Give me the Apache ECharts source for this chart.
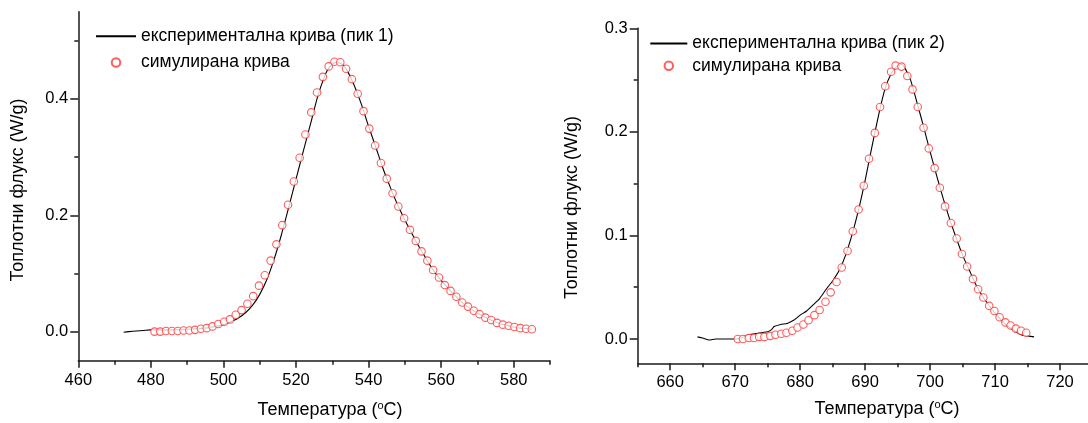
<!DOCTYPE html>
<html><head><meta charset="utf-8">
<script src="https://cdn.jsdelivr.net/npm/echarts@6/dist/echarts.min.js"></script>
<style>html,body{margin:0;padding:0;background:#fff}#c{width:1088px;height:423px}</style>
</head><body><div id="c"></div><script>
// ---- Left plot (peak 1) ----
const leftExpX = [472.5,474,476,478,480,485,490,495,498,500,502,504,506,508,510,512,514,516,518,520,522,524,526,528,529,530,531,532,533,534,536,538,540,542,544,546,548,550,552,554,556,558,560,562,564,566,568,570,572,574,576,578,580,582,584,585];
const leftExpY = [-0.001,0.000,0.001,0.002,0.003,0.003,0.004,0.006,0.009,0.012,0.017,0.023,0.032,0.045,0.064,0.090,0.125,0.167,0.214,0.262,0.310,0.357,0.405,0.441,0.453,0.460,0.463,0.462,0.458,0.450,0.424,0.391,0.353,0.317,0.280,0.248,0.218,0.192,0.168,0.145,0.124,0.104,0.088,0.074,0.061,0.049,0.040,0.032,0.025,0.019,0.014,0.011,0.008,0.006,0.005,0.004];
const leftSimX = [481.0,482.6,484.2,485.8,487.4,489.0,490.6,492.2,493.8,495.4,497.0,498.6,500.2,501.8,503.4,505.0,506.6,508.2,509.8,511.4,513.0,514.6,516.2,517.8,519.4,521.0,522.6,524.2,525.8,527.4,529.0,530.6,532.2,533.8,535.4,537.0,538.6,540.2,541.8,543.4,545.0,546.6,548.2,549.8,551.4,553.0,554.6,556.2,557.8,559.4,561.0,562.6,564.2,565.8,567.4,569.0,570.6,572.2,573.8,575.4,577.0,578.6,580.2,581.8,583.4,585.0];
const leftSimY = [0.000,0.000,0.001,0.001,0.001,0.002,0.002,0.003,0.005,0.006,0.009,0.013,0.017,0.021,0.029,0.037,0.048,0.061,0.079,0.097,0.122,0.150,0.183,0.218,0.258,0.299,0.339,0.377,0.411,0.438,0.456,0.464,0.463,0.452,0.434,0.409,0.379,0.349,0.320,0.290,0.263,0.238,0.215,0.195,0.175,0.156,0.138,0.122,0.106,0.093,0.080,0.070,0.060,0.050,0.043,0.036,0.030,0.024,0.020,0.015,0.012,0.010,0.008,0.006,0.005,0.004];
const leftXTicks = [460,480,500,520,540,560,580];
const leftXMinor = [470,490,510,530,550,570,590];
const leftYTicks = [0,0.2,0.4];
const leftYMinor = [0.1,0.3,0.5];

// ---- Right plot (peak 2) ----
const rightExpX = [664.2,665,666,667,668,669,670,671,672,673,674,675,675.6,676,677,678,679,680,681,682,683,684,685,686,687,688,689,690,691,692,693,694,695,695.6,696,697,698,699,700,701,702,703,704,705,706,707,708,709,710,711,712,713,714,715,716];
const rightExpY = [0.002,0.001,-0.001,0.000,0.000,0.000,0.000,0.001,0.004,0.005,0.006,0.007,0.009,0.012,0.014,0.015,0.018,0.023,0.027,0.033,0.039,0.048,0.056,0.066,0.081,0.101,0.125,0.153,0.184,0.214,0.240,0.256,0.264,0.265,0.263,0.250,0.228,0.205,0.181,0.158,0.136,0.116,0.098,0.081,0.067,0.053,0.042,0.033,0.025,0.018,0.012,0.008,0.004,0.003,0.002];
const rightSimX = [670.4,671.2,672.1,672.9,673.7,674.5,675.4,676.2,677.1,677.9,678.8,679.6,680.5,681.3,682.2,683.0,683.9,684.7,685.6,686.4,687.3,688.1,689.0,689.8,690.6,691.5,692.3,693.1,694.0,694.7,695.6,696.5,697.3,698.1,699.0,699.8,700.7,701.5,702.3,703.2,704.1,704.9,705.7,706.6,707.4,708.2,709.1,709.9,710.7,711.6,712.4,713.2,714.0,714.8];
const rightSimY = [0.000,0.000,0.001,0.001,0.002,0.002,0.003,0.004,0.005,0.006,0.008,0.011,0.014,0.018,0.023,0.028,0.036,0.045,0.055,0.069,0.085,0.104,0.125,0.148,0.174,0.199,0.224,0.244,0.258,0.264,0.263,0.254,0.241,0.224,0.204,0.184,0.165,0.146,0.128,0.112,0.097,0.082,0.070,0.058,0.048,0.040,0.032,0.027,0.021,0.016,0.013,0.010,0.008,0.006];
const rightXTicks = [660,670,680,690,700,710,720];
const rightXMinor = [655,665,675,685,695,705,715,725];
const rightYTicks = [0,0.1,0.2,0.3];
const rightYMinor = [0.05,0.15,0.25];

const expName1 = 'експериментална крива (пик 1)';
const expName2 = 'експериментална крива (пик 2)';
const simName = 'симулирана крива';
const xTitle = '{a|Температура (}{s|o}{a|C)}';
const yTitle = 'Топлотни флукс (W/g)';

const FONT = '"Liberation Sans", Arial, sans-serif';
const AX = '#1a1a1a';
const TXT = '#000';
function zip(a, b) { return a.map((v, i) => [v, b[i]]); }

function mainX(g, min, max, ticks) {
  return { type: 'value', gridIndex: g, min: min, max: max, position: 'bottom',
    axisLine: { show: true, onZero: false, lineStyle: { color: AX, width: 1.5 } },
    axisTick: { show: true, length: 7, customValues: ticks, lineStyle: { color: AX, width: 1.5 } },
    axisLabel: { customValues: ticks, margin: 11, fontSize: 16.5, color: TXT, fontFamily: FONT },
    splitLine: { show: false } };
}
function minorX(g, min, max, ticks) {
  return { type: 'value', gridIndex: g, min: min, max: max, position: 'bottom',
    axisLine: { show: false, onZero: false },
    axisTick: { show: true, length: 4, customValues: ticks, lineStyle: { color: AX, width: 1.5 } },
    axisLabel: { show: false }, splitLine: { show: false } };
}
function mainY(g, min, max, ticks) {
  return { type: 'value', gridIndex: g, min: min, max: max, position: 'left',
    axisLine: { show: true, onZero: false, lineStyle: { color: AX, width: 1.5 } },
    axisTick: { show: true, length: 8, customValues: ticks, lineStyle: { color: AX, width: 1.5 } },
    axisLabel: { customValues: ticks, margin: 10, fontSize: 16.5, color: TXT, fontFamily: FONT,
      formatter: v => Number(v).toFixed(1) },
    splitLine: { show: false } };
}
function minorY(g, min, max, ticks) {
  return { type: 'value', gridIndex: g, min: min, max: max, position: 'left',
    axisLine: { show: false, onZero: false },
    axisTick: { show: true, length: 4, customValues: ticks, lineStyle: { color: AX, width: 1.5 } },
    axisLabel: { show: false }, splitLine: { show: false } };
}

const simStyle = { color: '#ffffff', borderColor: '#ff3333', borderWidth: 1.1 };
const rich = {
  a: { fontSize: 18, fontFamily: FONT, color: TXT, lineHeight: 20 },
  s: { fontSize: 11, fontFamily: FONT, color: TXT, verticalAlign: 'top', lineHeight: 10 }
};
const legendText = { fontSize: 17.5, fontFamily: FONT, color: TXT, lineHeight: 17.5 };

const chart = echarts.init(document.getElementById('c'), null, { renderer: 'canvas' });
chart.setOption({
  animation: false,
  backgroundColor: '#fff',
  grid: [
    { left: 78.3, top: 11.7, width: 471.7, height: 349, containLabel: false, outerBoundsMode: 'none' },
    { left: 637.7, top: 28.3, width: 454.8, height: 335, containLabel: false, outerBoundsMode: 'none' }
  ],
  xAxis: [
    mainX(0, 460, 590, leftXTicks), minorX(0, 460, 590, leftXMinor),
    mainX(1, 655, 725, rightXTicks), minorX(1, 655, 725, rightXMinor)
  ],
  yAxis: [
    mainY(0, -0.05, 0.55, leftYTicks), minorY(0, -0.05, 0.55, leftYMinor),
    mainY(1, -0.0235, 0.3, rightYTicks), minorY(1, -0.0235, 0.3, rightYMinor)
  ],
  legend: [
    { left: 95, top: 27.3, padding: 0, orient: 'vertical', itemWidth: 40, itemHeight: 8.5, itemGap: 8.2,
      selectedMode: false,
      data: [{ name: expName1, itemStyle: { opacity: 0 } }, { name: simName }],
      textStyle: legendText },
    { left: 649.3, top: 34.6, padding: 0, orient: 'vertical', itemWidth: 37, itemHeight: 8.5, itemGap: 4.2,
      selectedMode: false,
      data: [{ name: expName2, itemStyle: { opacity: 0 } }, { name: simName }],
      textStyle: legendText }
  ],
  series: [
    { name: expName1, type: 'line', xAxisIndex: 0, yAxisIndex: 0, data: zip(leftExpX, leftExpY),
      symbol: 'none', smooth: 0.2, itemStyle: { color: '#000' }, lineStyle: { color: '#000', width: 1.1 }, z: 2 },
    { name: simName, type: 'scatter', xAxisIndex: 0, yAxisIndex: 0, data: zip(leftSimX, leftSimY),
      symbol: 'circle', symbolSize: 7.5, itemStyle: simStyle, z: 3 },
    { name: expName2, type: 'line', xAxisIndex: 2, yAxisIndex: 2, data: zip(rightExpX, rightExpY),
      symbol: 'none', smooth: 0.2, itemStyle: { color: '#000' }, lineStyle: { color: '#000', width: 1.1 }, z: 2 },
    { name: simName, type: 'scatter', xAxisIndex: 2, yAxisIndex: 2, data: zip(rightSimX, rightSimY),
      symbol: 'circle', symbolSize: 7.5, itemStyle: simStyle, z: 3 }
  ],
  graphic: [
    { type: 'text', x: 330, y: 410, style: { text: xTitle, rich: rich, align: 'center', verticalAlign: 'middle' } },
    { type: 'text', x: 887, y: 409, style: { text: xTitle, rich: rich, align: 'center', verticalAlign: 'middle' } },
    { type: 'text', x: 18.3, y: 190, rotation: Math.PI / 2,
      style: { text: yTitle, fontSize: 18, fontFamily: FONT, fill: TXT, align: 'center', verticalAlign: 'middle' } },
    { type: 'text', x: 572, y: 207.5, rotation: Math.PI / 2,
      style: { text: yTitle, fontSize: 18, fontFamily: FONT, fill: TXT, align: 'center', verticalAlign: 'middle' } }
  ]
});
</script></body></html>
